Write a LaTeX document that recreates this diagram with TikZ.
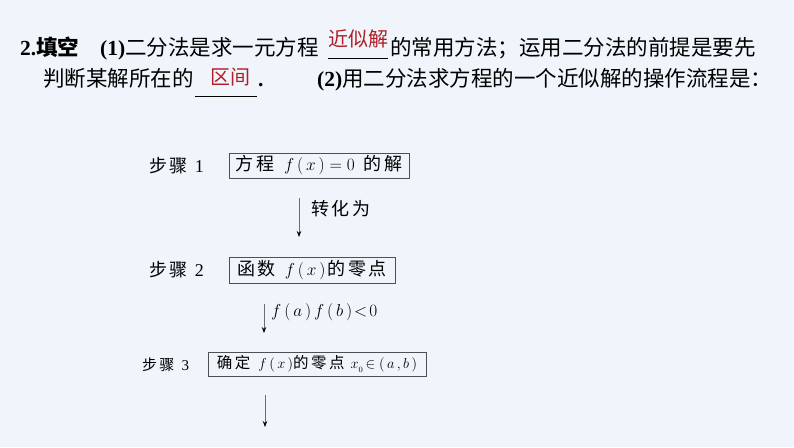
\documentclass[tikz,border=0pt]{standalone}
\usepackage{fontspec}
\setmainfont{Liberation Serif}
\newfontfamily\cjk{Noto Sans CJK SC}
\usetikzlibrary{arrows.meta}
\definecolor{bg}{RGB}{239,245,251}
\definecolor{ans}{RGB}{178,30,40}
\definecolor{boxc}{RGB}{80,80,80}
\definecolor{shaft}{RGB}{110,110,110}
\newcommand{\tk}{\hspace{2.5pt}}
\begin{document}
\begin{tikzpicture}[x=1pt,y=-1pt,
  txt/.style={anchor=base west,inner sep=0pt,font=\fontsize{21.5}{24}\selectfont\cjk},
  anstxt/.style={anchor=base,inner sep=0pt,text=ans,font=\fontsize{20}{24}\selectfont\cjk},
  stepbox/.style={draw=boxc,line width=0.8pt,inner sep=0pt,font=\fontsize{18}{20}\selectfont\cjk},
  steplab/.style={inner sep=0pt,font=\fontsize{18}{20}\selectfont\cjk},
  arrlab/.style={anchor=west,inner sep=0pt,font=\fontsize{18}{20}\selectfont\cjk},
  flowarrow/.style={draw=shaft,line width=0.8pt,-{Stealth[length=6pt,width=4.5pt,color=black]}},
  blank/.style={draw=black,line width=0.9pt}]
\fill[bg] (0,0) rectangle (794,447);
\useasboundingbox (0,0) rectangle (794,447);

% line 1
\node[txt] (l1a) at (20,55) {{\rmfamily\bfseries 2.}{\bfseries 填空}};
\node[txt] (l1b) at (100,55) {{\rmfamily\bfseries (1)}二分法是求一元方程};
\coordinate (u1s) at (328,58);
\coordinate (u1e) at (388,58);
\draw[blank] (u1s) -- (u1e);
\node[anstxt] (ans1) at (358,46) {近似解};
\node[txt] (l1c) at (390,55) {的常用方法；运用二分法的前提是要先};

% line 2
\node[txt] (l2a) at (43,86) {判断某解所在的};
\coordinate (u2s) at (195,96);
\coordinate (u2e) at (257,96);
\draw[blank] (u2s) -- (u2e);
\node[anstxt] (ans2) at (230,84) {区间};
\node[txt] (l2b) at (258,86) {{\rmfamily\bfseries .}};
\node[txt] (l2c) at (317,86) {{\rmfamily\bfseries (2)}用二分法求方程的一个近似解的操作流程是：};

% flowchart
\node[steplab] (s1) at (176.5,165.5) {步\tk 骤\hspace{7pt}{\rmfamily 1}};
\node[stepbox,minimum width=180pt,minimum height=25pt] (b1) at (319,165.5)
  {方\tk 程\hspace{10pt}$f\,(\,x\,)=0$\hspace{9pt}的\tk 解};

\node[steplab] (s2) at (176.5,270) {步\tk 骤\hspace{7pt}{\rmfamily 2}};
\node[stepbox,minimum width=166pt,minimum height=26pt] (b2) at (312,270)
  {函\tk 数\hspace{9pt}$f\,(\,x\,)$\hspace{2pt}的\tk 零\tk 点};

\node[steplab,font=\fontsize{15}{17}\selectfont\cjk] (s3) at (165.5,364.5) {步\tk 骤\hspace{7pt}{\rmfamily 3}};
\node[stepbox,font=\fontsize{15.5}{17}\selectfont\cjk,minimum width=218pt,minimum height=24pt] (b3) at (317,364)
  {确\tk 定\hspace{8pt}$f\,(\,x\,)$的\tk 零\tk 点\hspace{6pt}$x_{{}_0}\!\in(\,a\,,b\,)$};

\coordinate (a1s) at (299,198);
\coordinate (a1e) at (299,237);
\draw[flowarrow] (a1s) -- (a1e);
\node[arrlab] (l1) at (311,209) {转\tk 化\tk 为};

\coordinate (a2s) at (264,304);
\coordinate (a2e) at (264,333);
\draw[flowarrow] (a2s) -- (a2e);
\node[arrlab,font=\fontsize{16.5}{18}\selectfont] (l2) at (271,312) {$f\,(\,a\,)\,f\,(\,b\,)\!<\!0$};

\coordinate (a3s) at (265,395);
\coordinate (a3e) at (265,427);
\draw[flowarrow] (a3s) -- (a3e);
\end{tikzpicture}
\end{document}
